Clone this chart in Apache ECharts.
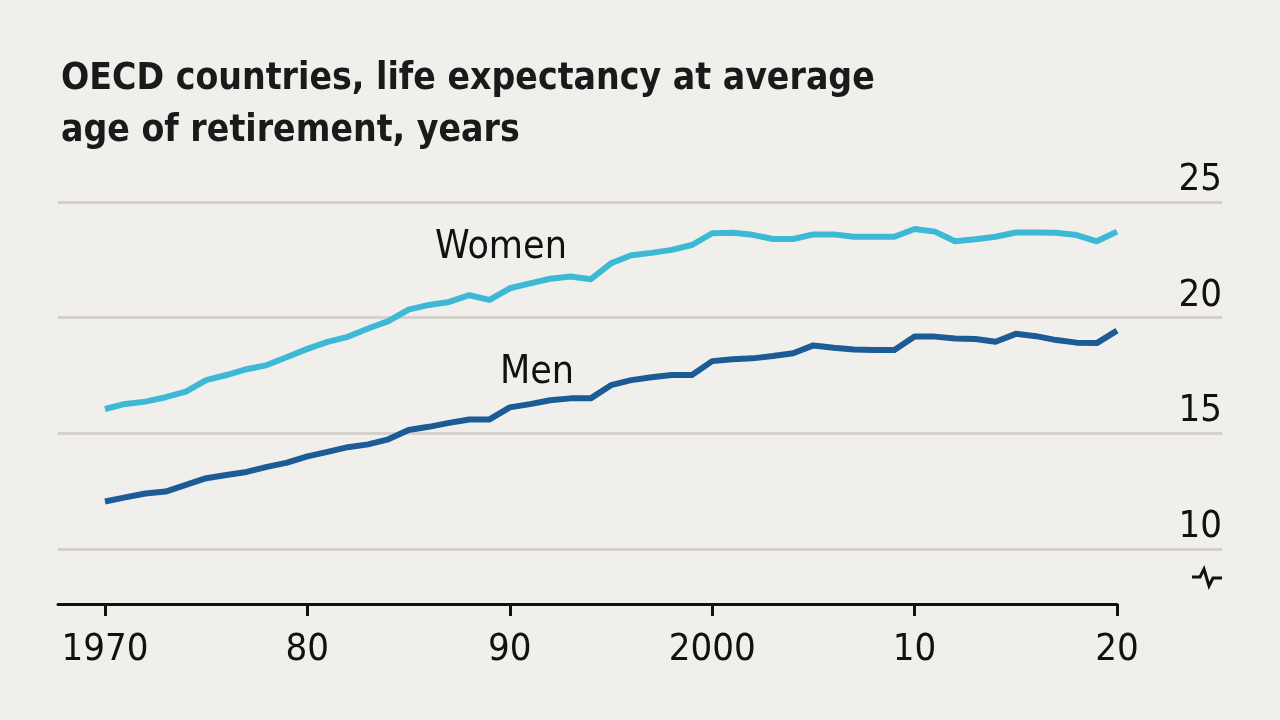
<!DOCTYPE html>
<html>
<head>
<meta charset="utf-8">
<script src="https://cdn.jsdelivr.net/npm/echarts@6/dist/echarts.min.js"></script>
<style>
html,body{margin:0;padding:0;background:#f0efeb;}
#chart{width:1280px;height:720px;}
</style>
</head>
<body>
<div id="chart"></div>
<script>
const years = [1970,1971,1972,1973,1974,1975,1976,1977,1978,1979,1980,1981,1982,1983,1984,1985,1986,1987,1988,1989,1990,1991,1992,1993,1994,1995,1996,1997,1998,1999,2000,2001,2002,2003,2004,2005,2006,2007,2008,2009,2010,2011,2012,2013,2014,2015,2016,2017,2018,2019,2020];
const women = [16.05,16.27,16.37,16.56,16.8,17.3,17.52,17.77,17.95,18.3,18.65,18.95,19.17,19.53,19.85,20.35,20.55,20.68,20.97,20.77,21.27,21.48,21.68,21.78,21.66,22.35,22.7,22.8,22.93,23.14,23.65,23.67,23.58,23.4,23.4,23.6,23.6,23.5,23.5,23.5,23.83,23.72,23.3,23.39,23.5,23.68,23.68,23.67,23.57,23.3,23.72];
const men = [12.05,12.23,12.4,12.48,12.77,13.06,13.2,13.33,13.55,13.73,14.0,14.2,14.4,14.52,14.74,15.14,15.28,15.45,15.6,15.6,16.12,16.26,16.43,16.51,16.51,17.08,17.3,17.42,17.52,17.52,18.12,18.2,18.24,18.34,18.46,18.8,18.7,18.62,18.6,18.6,19.18,19.18,19.1,19.08,18.96,19.3,19.2,19.03,18.92,18.9,19.44];
const xTickYears = [1970,1980,1990,2000,2010,2020];
const xTickLabels = ['1970','80','90','2000','10','20'];
const yTicks = [10,15,20,25];

const FONT = '"Liberation Sans Narrow", "DejaVu Sans Condensed", sans-serif';
const chart = echarts.init(document.getElementById('chart'));
const pair = arr => years.map((y, i) => [y, arr[i]]);

chart.setOption({
  backgroundColor: '#f0efeb',
  animation: false,
  title: {
    text: 'OECD countries, life expectancy at average\nage of retirement, years',
    left: 56, top: 48,
    textStyle: { fontFamily: FONT, fontWeight: 'bold', fontSize: 37, lineHeight: 52, color: '#1a1a1a' }
  },
  grid: [
    { left: 58, right: 58, top: 202, bottom: 116 },
    { left: 58, right: 163, top: 202, bottom: 116 }
  ],
  xAxis: [
    { gridIndex: 0, type: 'value', min: 0, max: 1, show: false },
    {
      gridIndex: 1, type: 'value', min: 1967.68, max: 2020,
      axisLine: { show: true, onZero: false, lineStyle: { color: '#111', width: 3 } },
      axisTick: { show: true, customValues: xTickYears, length: 12, lineStyle: { color: '#111', width: 3 } },
      axisLabel: {
        customValues: xTickYears, margin: 27,
        formatter: v => xTickLabels[xTickYears.indexOf(v)],
        fontFamily: FONT, fontSize: 38, color: '#111'
      },
      splitLine: { show: false }
    }
  ],
  yAxis: [
    {
      gridIndex: 0, type: 'value', position: 'right', min: 7.62, max: 25,
      axisLine: { show: false },
      axisTick: { show: false, customValues: yTicks },
      axisLabel: {
        customValues: yTicks, inside: true, margin: 0, verticalAlign: 'bottom',
        padding: [0, 0, 3, 0],
        fontFamily: FONT, fontSize: 38, color: '#111'
      },
      splitLine: { show: true, lineStyle: { color: '#d5d2cd', width: 3 } }
    },
    { gridIndex: 1, type: 'value', min: 7.62, max: 25, show: false }
  ],
  series: [
    {
      name: 'Women', type: 'line', xAxisIndex: 1, yAxisIndex: 1,
      data: pair(women), symbol: 'none',
      lineStyle: { color: '#3db9d5', width: 6, join: 'round' }
    },
    {
      name: 'Men', type: 'line', xAxisIndex: 1, yAxisIndex: 1,
      data: pair(men), symbol: 'none',
      lineStyle: { color: '#1d5b97', width: 6, join: 'round' }
    }
  ],
  graphic: [
    { type: 'text', left: 435, top: 228, style: { text: 'Women', font: '39px ' + FONT, fill: '#111' } },
    { type: 'text', left: 500, top: 353, style: { text: 'Men', font: '39px ' + FONT, fill: '#111' } },
    {
      type: 'polyline',
      shape: { points: [[1192, 577], [1200, 577], [1204, 569], [1209, 586], [1213, 578], [1222, 578]] },
      style: { stroke: '#111', lineWidth: 3, fill: null }
    }
  ]
});
</script>
</body>
</html>
